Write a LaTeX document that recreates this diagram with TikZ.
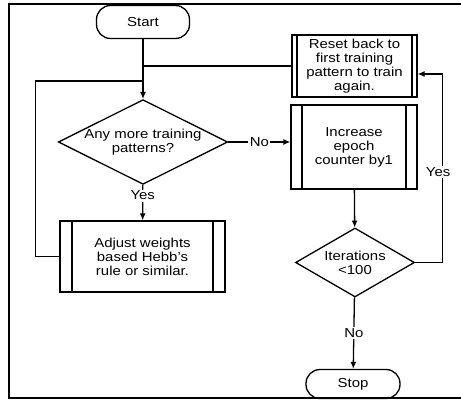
\documentclass[tikz,border=0pt]{standalone}
\usepackage{fontspec}
\setmainfont{Liberation Sans}[FakeStretch=1.15]
\usetikzlibrary{arrows.meta,shapes.geometric,positioning}
\tikzset{
  line/.style={line width=1.3pt},
  termbox/.style={rectangle, rounded corners=14pt, draw, line, inner sep=0pt,
                  minimum width=93pt, minimum height=33pt},
  procbox/.style={rectangle, draw, line, align=center, inner sep=0pt,
                  path picture={\draw[line]
                    ([xshift=#1]path picture bounding box.north west) -- ([xshift=#1]path picture bounding box.south west)
                    ([xshift=-#1]path picture bounding box.north east) -- ([xshift=-#1]path picture bounding box.south east);}},
  procbox/.default=11pt,
  decbox/.style={diamond, draw, line, align=center, inner sep=0pt, aspect=2},
  arrow/.style={line, -{Latex[length=7pt,width=6pt]}},
  lbl/.style={fill=white, inner sep=1.5pt},
}
\begin{document}
\begin{tikzpicture}[x=1pt, y=-1pt, font=\fontsize{13}{14}\selectfont]
\useasboundingbox (0,0) rectangle (461,404);
% frame round the chart
\draw[line] (461,4) -- (9,4) -- (9,398) -- (461,398);

% left column
\node[termbox] (start) at (143,22) {Start};
\node[decbox, minimum width=165pt, minimum height=79pt] (more) at (143,142) {Any more training\\patterns?};
\node[procbox=12pt, minimum width=165pt, minimum height=71pt] (adjust) at (142.5,256.5) {Adjust weights\\based Hebb's\\rule or similar.};

% right column
\node[procbox=5pt, minimum width=125pt, minimum height=62pt] (reset) at (354.5,66) {Reset back to\\first training\\pattern to train\\again.};
\node[procbox, minimum width=126pt, minimum height=84pt] (epoch) at (354,147) {Increase\\epoch\\counter by1};
\node[decbox, minimum width=119pt, minimum height=69pt] (iter) at (355,262.5) {Iterations\\<100};
\node[termbox, minimum width=94pt, minimum height=29pt] (stop) at (353,384) {Stop};

% connectors
\draw[arrow] (start) -- (more);
\draw[line] (reset.west) -- (reset.west -| start.south);
\draw[line] (adjust.west) -- ++(-24,0) |- (143,81);
\draw[arrow] (more) -- node[lbl, pos=0.3] {Yes} (adjust);
\draw[arrow] (more.east) -- node[lbl] {No} (more.east -| epoch.west);
\draw[arrow] (epoch) -- (iter);
\draw[arrow] (iter.east) -- ++(27,0) |- node[lbl, pos=0.24, xshift=-4pt] {Yes} ([yshift=-8pt]reset.east);
\draw[arrow] (iter) -- node[lbl] {No} (stop);
\end{tikzpicture}
\end{document}
